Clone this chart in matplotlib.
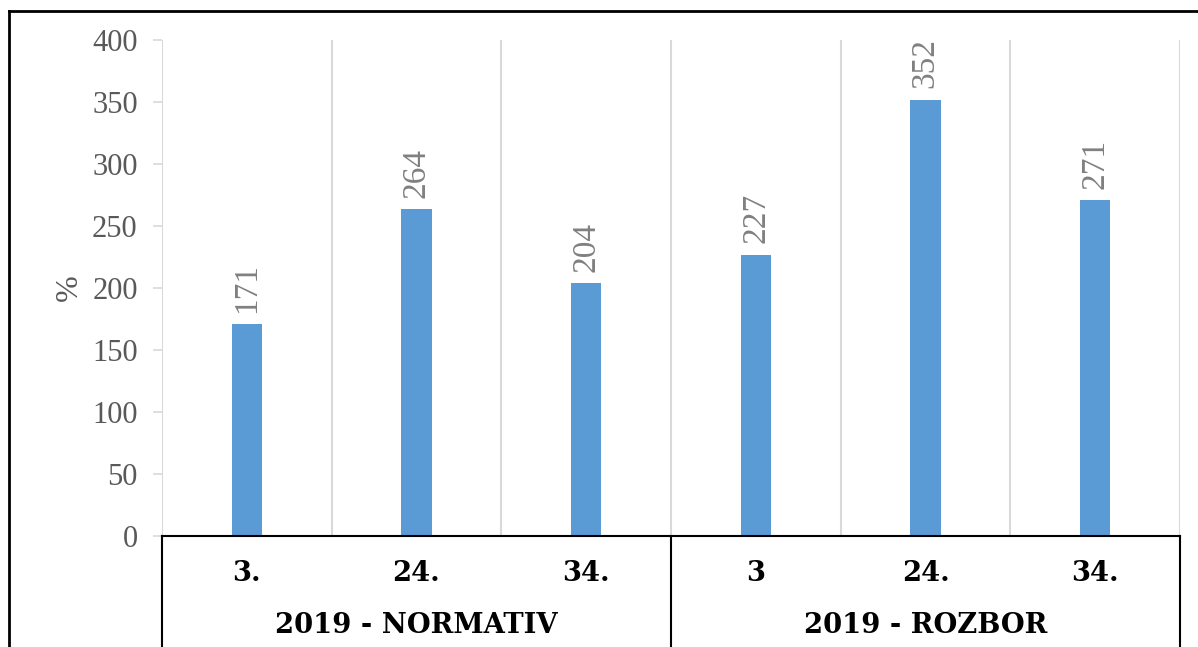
import matplotlib
matplotlib.use("Agg")
import matplotlib.pyplot as plt
from matplotlib.lines import Line2D
import matplotlib.transforms as mtransforms

categories = ["3.", "24.", "34.", "3", "24.", "34."]
groups = ["2019 - NORMATIV", "2019 - ROZBOR"]
group_sizes = [3, 3]
values = [171, 264, 204, 227, 352, 271]
yticks = [0, 50, 100, 150, 200, 250, 300, 350, 400]

W, H = 1198, 647
fig = plt.figure(figsize=(W / 100, H / 100), dpi=100)
plt.rcParams['font.family'] = ['Liberation Serif', 'DejaVu Serif']

ax = fig.add_axes([162 / W, 1 - 536 / H, (1180 - 162) / W, (536 - 40) / H])

x = list(range(len(values)))
ax.bar(x, values, width=0.18, color='#5B9BD5', zorder=3)
ax.set_xlim(-0.5, len(values) - 0.5)
ax.set_ylim(0, 400)
ax.set_yticks(yticks)
ax.set_xticks([])
ax.tick_params(axis='y', colors='#D9D9D9', length=6.5, width=1.2, labelcolor='#595959',
               labelsize=22, pad=11)
for s in ['top', 'right', 'left']:
    ax.spines[s].set_visible(False)
ax.spines['bottom'].set_color('black')
ax.spines['bottom'].set_linewidth(1.5)
ax.spines['bottom'].set_zorder(5)

for b in range(len(values) + 1):
    ax.axvline(b - 0.5, color='#D9D9D9', lw=1.5, zorder=1)

ax.set_ylabel('%', fontsize=23, color='#595959', labelpad=6)

for xi, v in zip(x, values):
    ax.annotate(str(v), (xi, v), xytext=(0, 8), textcoords='offset points',
                rotation=90, ha='center', va='bottom', fontsize=24, color='#808080')

bold_font = ['DejaVu Serif']
trans = mtransforms.blended_transform_factory(ax.transData, ax.transAxes)
for xi, c in zip(x, categories):
    ax.text(xi, -0.0766, c, transform=trans, ha='center', va='center',
            fontsize=19.7, fontweight='bold', color='black', family=bold_font)

start = 0
bounds = [-0.5]
for g, n in zip(groups, group_sizes):
    center = start + (n - 1) / 2
    ax.text(center, -0.181, g, transform=trans, ha='center', va='center',
            fontsize=19.7, fontweight='bold', color='black', family=bold_font)
    start += n
    bounds.append(start - 0.5)

for bx in bounds:
    ax.add_line(Line2D([bx, bx], [0, -0.25], transform=trans, color='black',
                       lw=1.5, clip_on=False, zorder=5))

# outer frame
fig.add_artist(Line2D([8.5 / W, 1.01], [1 - 10.5 / H, 1 - 10.5 / H], color='black', lw=2,
                      transform=fig.transFigure))
fig.add_artist(Line2D([8.5 / W, 8.5 / W], [1 - 10.5 / H, -0.01], color='black', lw=2,
                      transform=fig.transFigure))

fig.savefig('out.png', dpi=100)
